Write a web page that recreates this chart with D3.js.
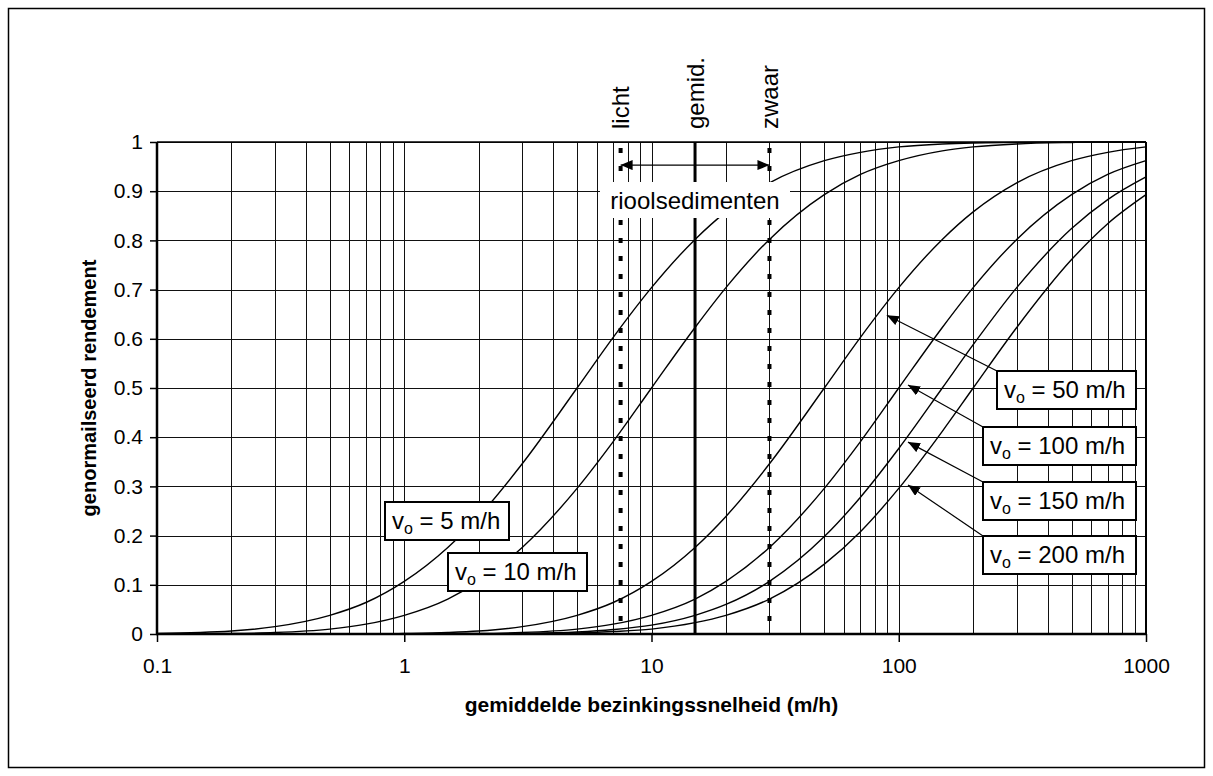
<!DOCTYPE html>
<html>
<head>
<meta charset="utf-8">
<script src="https://cdn.jsdelivr.net/npm/d3@7"></script>
<style>
  body { margin: 0; background: #fff; }
  text { font-family: Arial, "Liberation Sans", sans-serif; }
</style>
</head>
<body>
<div class="svg"></div>
<script>
// settling velocities (m/h) at which the curves were read
const speeds = [0.1, 0.2, 0.3, 0.5, 0.7, 1, 1.5, 2, 3, 5, 7, 10, 15, 20, 30, 50, 70, 100, 150, 200, 300, 500, 700, 1000];

// normalised efficiency per surface load v0
const eff5   = [0.001, 0.006, 0.015, 0.038, 0.064, 0.107, 0.176, 0.239, 0.346, 0.5, 0.603, 0.704, 0.802, 0.858, 0.917, 0.962, 0.979, 0.990, 0.996, 0.998, 0.999, 1, 1, 1];
const eff10  = [0, 0.001, 0.003, 0.010, 0.020, 0.038, 0.071, 0.107, 0.176, 0.296, 0.391, 0.5, 0.623, 0.704, 0.802, 0.893, 0.934, 0.962, 0.982, 0.990, 0.996, 0.999, 1, 1];
const eff50  = [0, 0, 0, 0, 0, 0.001, 0.003, 0.006, 0.015, 0.038, 0.064, 0.107, 0.176, 0.239, 0.346, 0.5, 0.603, 0.704, 0.802, 0.858, 0.917, 0.962, 0.979, 0.990];
const eff100 = [0, 0, 0, 0, 0, 0, 0.001, 0.001, 0.003, 0.010, 0.020, 0.038, 0.071, 0.107, 0.176, 0.296, 0.391, 0.5, 0.623, 0.704, 0.802, 0.893, 0.934, 0.962];
const eff150 = [0, 0, 0, 0, 0, 0, 0, 0, 0.001, 0.004, 0.009, 0.018, 0.038, 0.060, 0.107, 0.198, 0.278, 0.377, 0.5, 0.588, 0.704, 0.824, 0.883, 0.929];
const eff200 = [0, 0, 0, 0, 0, 0, 0, 0, 0.001, 0.002, 0.005, 0.010, 0.023, 0.038, 0.071, 0.142, 0.208, 0.296, 0.412, 0.5, 0.623, 0.761, 0.834, 0.893];

const curveNames = ["5", "10", "50", "100", "150", "200"];
const curveValues = [eff5, eff10, eff50, eff100, eff150, eff200];

// sewer sediment classes (m/h)
const sedNames = ["licht", "gemid.", "zwaar"];
const sedSpeeds = [7.5, 15, 30];

const xTicks = [0.1, 1, 10, 100, 1000];
const yTicks = [0, 0.1, 0.2, 0.3, 0.4, 0.5, 0.6, 0.7, 0.8, 0.9, 1];

// where each label arrow points (speed, efficiency)
const arrowSpeeds = [89.5, 109, 109, 109];
const arrowEffs = [0.648, 0.506, 0.390, 0.303];

const width = 1213;
const height = 776;
const pLeft = 157, pRight = 1146, pTop = 142, pBottom = 634;

let svg = d3.select('.svg').append('svg').attr('width', width).attr('height', height);

svg.append('rect').attr('width', width).attr('height', height).attr('fill', '#fff');
svg.append('rect')
    .attr('x', 8.5).attr('y', 8.5)
    .attr('width', 1196).attr('height', 759)
    .attr('fill', 'none').attr('stroke', '#000').attr('stroke-width', 1.5);

let x = d3.scaleLog().domain([0.1, 1000]).range([pLeft, pRight]);
let y = d3.scaleLinear().domain([0, 1]).range([pBottom, pTop]);

// grid
let grid = svg.append('g').attr('stroke', '#111').attr('stroke-width', 1).attr('shape-rendering', 'crispEdges');
grid.selectAll('.vg').data(x.ticks()).enter().append('line')
    .attr('x1', d => Math.round(x(d)) + 0.5).attr('x2', d => Math.round(x(d)) + 0.5)
    .attr('y1', pTop).attr('y2', pBottom);
grid.selectAll('.hg').data(yTicks).enter().append('line')
    .attr('x1', pLeft).attr('x2', pRight)
    .attr('y1', d => Math.round(y(d)) + 0.5).attr('y2', d => Math.round(y(d)) + 0.5);

// curves
let line = d3.line()
    .x((d, i) => x(speeds[i]))
    .y(d => y(d))
    .curve(d3.curveMonotoneX);

svg.append('g').selectAll('path').data(curveValues).enter().append('path')
    .attr('d', d => line(d))
    .attr('fill', 'none')
    .attr('stroke', '#000')
    .attr('stroke-width', 1.4);

// sediment lines
svg.append('g').selectAll('line').data(sedSpeeds).enter().append('line')
    .attr('x1', d => x(d)).attr('x2', d => x(d))
    .attr('y1', pTop).attr('y2', pBottom)
    .attr('stroke', '#000')
    .attr('stroke-width', (d, i) => i == 1 ? 3 : 4)
    .attr('stroke-dasharray', (d, i) => i == 1 ? null : '5,13')
    .attr('stroke-dashoffset', 12);

svg.append('g').selectAll('text').data(sedNames).enter().append('text')
    .attr('transform', (d, i) => 'translate(' + (x(sedSpeeds[i]) + 8.5) + ',129) rotate(-90)')
    .attr('font-size', 24)
    .text(d => d);

// arrow markers
let defs = svg.append('defs');
defs.append('marker')
    .attr('id', 'head')
    .attr('markerUnits', 'userSpaceOnUse')
    .attr('markerWidth', 13).attr('markerHeight', 11)
    .attr('refX', 12).attr('refY', 5)
    .attr('orient', 'auto-start-reverse')
    .append('path').attr('d', 'M0,0 L12,5 L0,10 Z').attr('fill', '#000');

// double arrow between licht and zwaar
svg.append('line')
    .attr('x1', x(sedSpeeds[0])).attr('x2', x(sedSpeeds[2]))
    .attr('y1', y(0.953)).attr('y2', y(0.953))
    .attr('stroke', '#000').attr('stroke-width', 1.2)
    .attr('marker-start', 'url(#head)').attr('marker-end', 'url(#head)');

// rioolsedimenten label (white box hides grid)
svg.append('rect')
    .attr('x', 600).attr('y', 182).attr('width', 190).attr('height', 36)
    .attr('fill', '#fff');
svg.append('text')
    .attr('x', 695).attr('y', 209)
    .attr('text-anchor', 'middle')
    .attr('font-size', 24)
    .text('rioolsedimenten');

// v0 labels: box left, top, width
let boxes = [
    [385, 502, 124],
    [448, 553, 139],
    [997, 371, 139],
    [983, 427, 153],
    [983, 482, 153],
    [983, 536, 153]
];

// arrows from box corners to curves (for 50..200)
svg.append('g').selectAll('line').data(arrowSpeeds).enter().append('line')
    .attr('x1', (d, i) => boxes[i + 2][0]).attr('y1', (d, i) => boxes[i + 2][1])
    .attr('x2', d => x(d)).attr('y2', (d, i) => y(arrowEffs[i]))
    .attr('stroke', '#000').attr('stroke-width', 1.2)
    .attr('marker-end', 'url(#head)');

let labels = svg.append('g').selectAll('g').data(curveNames).enter().append('g')
    .attr('transform', (d, i) => 'translate(' + boxes[i][0] + ',' + boxes[i][1] + ')');
labels.append('rect')
    .attr('width', (d, i) => boxes[i][2]).attr('height', 38)
    .attr('fill', '#fff').attr('stroke', '#000').attr('stroke-width', 2);
let lt = labels.append('text').attr('x', 7).attr('y', 27).attr('font-size', 24);
lt.append('tspan').text('v');
lt.append('tspan').attr('font-size', 16).attr('dy', 5).text('o');
lt.append('tspan').attr('dy', -5).text(d => ' = ' + d + ' m/h');

// axes
let axisX = d3.axisBottom(x).tickValues(xTicks).tickSize(8).tickPadding(16).tickFormat(d => d);
let axisY = d3.axisLeft(y).tickValues(yTicks).tickSize(7).tickPadding(7).tickFormat(d => d);

let gx = svg.append('g').attr('transform', 'translate(0,' + pBottom + ')').call(axisX);
let gy = svg.append('g').attr('transform', 'translate(' + pLeft + ',0)').call(axisY);
[gx, gy].forEach(g => {
    g.select('.domain').remove();
    g.selectAll('line').attr('stroke', '#000').attr('stroke-width', 1.5);
    g.selectAll('text').attr('font-size', 21).attr('fill', '#000')
        .attr('font-family', 'Arial, "Liberation Sans", sans-serif');
});

svg.append('line').attr('x1', pLeft).attr('x2', pLeft).attr('y1', pTop).attr('y2', pBottom + 1)
    .attr('stroke', '#000').attr('stroke-width', 2.5);
svg.append('line').attr('x1', pLeft - 1).attr('x2', pRight + 1).attr('y1', pBottom).attr('y2', pBottom)
    .attr('stroke', '#000').attr('stroke-width', 2.5);
svg.append('line').attr('x1', pLeft).attr('x2', pRight).attr('y1', pTop).attr('y2', pTop)
    .attr('stroke', '#000').attr('stroke-width', 1.5);
svg.append('line').attr('x1', pRight).attr('x2', pRight).attr('y1', pTop).attr('y2', pBottom)
    .attr('stroke', '#000').attr('stroke-width', 2);

// axis titles
svg.append('text')
    .attr('x', (pLeft + pRight) / 2).attr('y', 712)
    .attr('text-anchor', 'middle')
    .attr('font-size', 21).attr('font-weight', 'bold')
    .text('gemiddelde bezinkingssnelheid (m/h)');
svg.append('text')
    .attr('transform', 'translate(96,' + (pTop + pBottom) / 2 + ') rotate(-90)')
    .attr('text-anchor', 'middle')
    .attr('font-size', 20).attr('font-weight', 'bold')
    .text('genormailseerd rendement');
</script>
</body>
</html>
